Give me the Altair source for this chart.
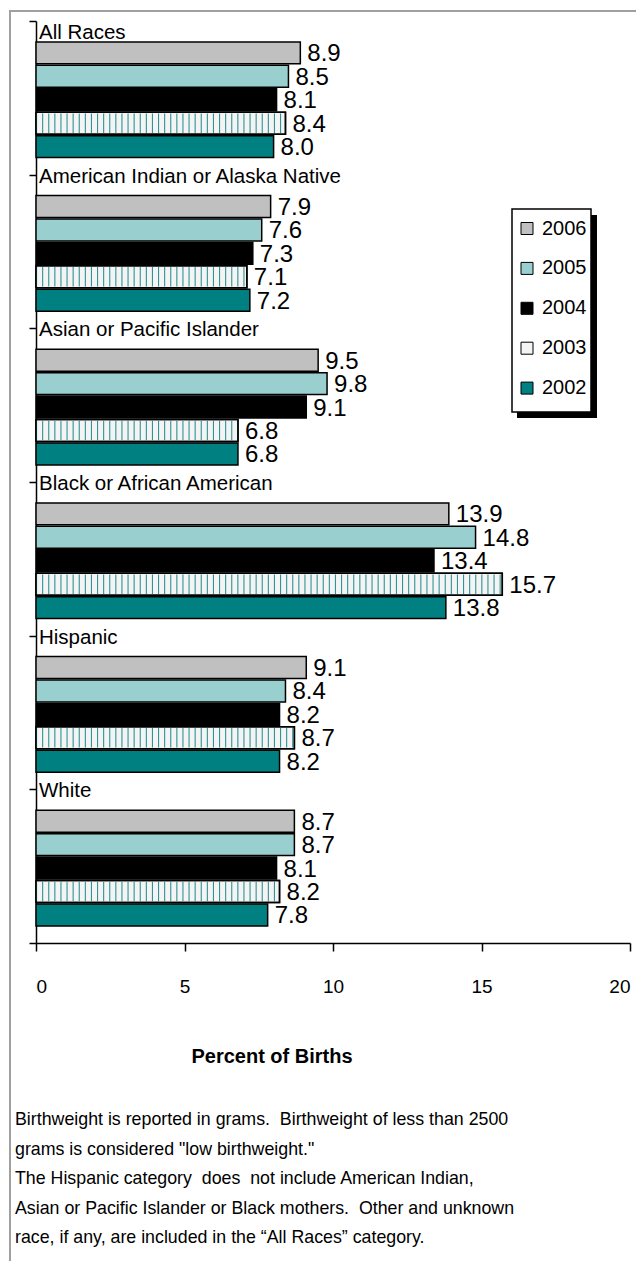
import altair as alt
import pandas as pd

# ---- data ----
groups = [
    "All Races",
    "American Indian or Alaska Native",
    "Asian or Pacific Islander",
    "Black or African American",
    "Hispanic",
    "White",
]
years = ["2006", "2005", "2004", "2003", "2002"]
v2006 = [8.9, 7.9, 9.5, 13.9, 9.1, 8.7]
v2005 = [8.5, 7.6, 9.8, 14.8, 8.4, 8.7]
v2004 = [8.1, 7.3, 9.1, 13.4, 8.2, 8.1]
v2003 = [8.4, 7.1, 6.8, 15.7, 8.7, 8.2]
v2002 = [8.0, 7.2, 6.8, 13.8, 8.2, 7.8]
x_ticks = [0, 5, 10, 15, 20]
footnote = [
    "Birthweight is reported in grams.\u00a0 Birthweight of less than 2500",
    "grams is considered \"low birthweight.\"",
    "The Hispanic category\u00a0 does\u00a0 not include American Indian,",
    "Asian or Pacific Islander or Black mothers.\u00a0 Other and unknown",
    "race, if any, are included in the \u201cAll Races\u201d category.",
]

# ---- styles ----
colors = ["#c0c0c0", "#9acfcf", "#000000", "#f4f4f4", "#008080"]
FONT = "Liberation Sans, Arial, sans-serif"
W, H = 594, 922

rows = []
for yr, vals in zip(years, [v2006, v2005, v2004, v2003, v2002]):
    for g, v in zip(groups, vals):
        rows.append({"group": g, "year": yr, "value": v, "label": f"{v:.1f}"})
df = pd.DataFrame(rows)
gdf = pd.DataFrame({"group": groups})

x_scale = alt.Scale(domain=[0, 20], nice=False, zero=True)
y_scale = alt.Scale(domain=groups, paddingInner=0, paddingOuter=0)
yoff_scale = alt.Scale(domain=years, paddingInner=0.064, paddingOuter=0.81, align=0.55)

x_axis = alt.Axis(
    values=x_ticks, tickSize=8, tickColor="black", tickWidth=1.5,
    domainColor="black", domainWidth=1.5, grid=False,
    labelFont=FONT, labelFontSize=19, labelColor="black", labelPadding=26,
    title="Percent of Births", titleFont=FONT, titleFontSize=20, titleFontWeight="bold",
    titleColor="black", titleX=235.5, titleY=119, titleBaseline="alphabetic",
    titleAlign="center", titleAnchor="start",
)
y_axis = alt.Axis(
    labels=False, title=None, tickBand="extent", tickSize=7, tickColor="black",
    tickWidth=1.5, domainColor="black", domainWidth=1.5, grid=False,
)

X = alt.X("value:Q", scale=x_scale, axis=x_axis)
Y = alt.Y("group:N", scale=y_scale, axis=y_axis)
Y0 = alt.Y("group:N", scale=y_scale, axis=y_axis, bandPosition=0)
YO = alt.YOffset("year:N", scale=yoff_scale)

bars = alt.Chart(df).mark_bar(stroke="black", strokeWidth=1.5).encode(
    x=X, y=Y, yOffset=YO,
    color=alt.Color(
        "year:N", scale=alt.Scale(domain=years, range=colors),
        legend=alt.Legend(
            title=None, orient="none", legendX=481, legendY=197.5, padding=0,
            symbolType="square", symbolSize=144, symbolStrokeColor="black",
            symbolStrokeWidth=1, labelFont=FONT, labelFontSize=20, labelColor="black",
            labelOffset=5, rowPadding=19.9,
        ),
    ),
)

d2003 = "datum.year == '2003'"
stripes = alt.Chart(df).transform_filter(d2003).transform_calculate(zero="0").mark_rule(
    color="#2e9494", strokeWidth=19.5, strokeDash=[1.1, 5.0], strokeCap="butt"
).encode(x=alt.X("zero:Q", scale=x_scale, axis=x_axis), x2="value:Q", y=Y, yOffset=YO)

outline2003 = alt.Chart(df).transform_filter(d2003).mark_bar(
    fillOpacity=0, stroke="black", strokeWidth=1.5
).encode(x=X, y=Y, yOffset=YO)

values_txt = alt.Chart(df).mark_text(
    align="left", baseline="middle", dx=7, dy=1.5, font=FONT, fontSize=24, color="black"
).encode(x=X, y=Y, yOffset=YO, text="label:N")

first_lbl = alt.Chart(gdf).transform_filter(f"datum.group == '{groups[0]}'").mark_text(
    align="left", baseline="alphabetic", dx=3, dy=18, font=FONT, fontSize=20.5, color="black"
).encode(x=alt.value(0), y=Y0, text="group:N")

other_lbl = alt.Chart(gdf).transform_filter(f"datum.group != '{groups[0]}'").mark_text(
    align="left", baseline="alphabetic", dx=3, dy=8, font=FONT, fontSize=20.5, color="black"
).encode(x=alt.value(0), y=Y0, text="group:N")

one = pd.DataFrame({"k": [0]})
note = alt.Chart(one).mark_text(
    align="left", baseline="top", font=FONT, fontSize=17.8, lineHeight=29.5, color="black"
).encode(x=alt.value(-21), y=alt.value(1090), text=alt.value(footnote))

# legend box with drop shadow (decoration)
shadow = alt.Chart(one).mark_rect(fill="black").encode(
    x=alt.value(481), x2=alt.value(561), y=alt.value(194), y2=alt.value(397)
)
legend_box = alt.Chart(one).mark_rect(fill="white", stroke="black", strokeWidth=1.5).encode(
    x=alt.value(476), x2=alt.value(555), y=alt.value(188), y2=alt.value(391)
)

frame_left = alt.Chart(one).mark_rule(color="#a0a0a0", strokeWidth=2).encode(
    x=alt.value(-26), y=alt.value(-11), y2=alt.value(1270)
)
frame_top = alt.Chart(one).mark_rule(color="#a0a0a0", strokeWidth=2).encode(
    x=alt.value(-27), x2=alt.value(600), y=alt.value(-10)
)

chart = alt.layer(
    frame_left, frame_top, shadow, legend_box, bars, stripes, outline2003,
    values_txt, first_lbl, other_lbl, note,
).properties(
    width=W, height=H,
    background="white",
    autosize=alt.AutoSizeParams(type="none"),
    padding={"left": 28, "top": 13, "right": 6, "bottom": 318},
).configure_view(stroke=None)

chart.save("out.html", embed_options={"renderer": "svg", "actions": False})
